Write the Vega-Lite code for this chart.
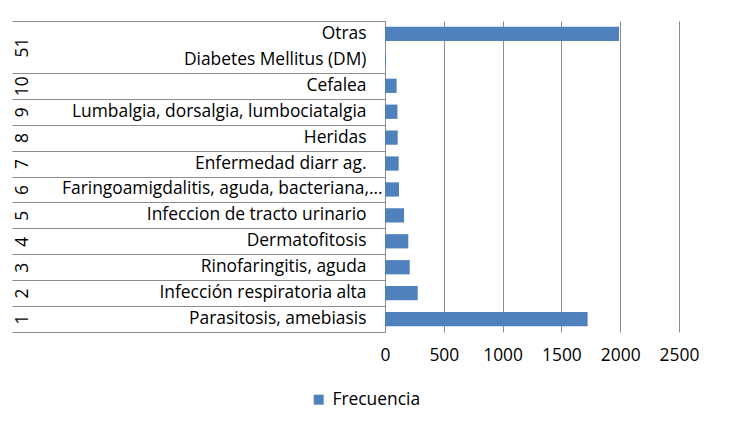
{
  "$schema": "https://vega.github.io/schema/vega-lite/v6.json",
  "width": 294,
  "height": 311,
  "autosize": "none",
  "padding": {"left": 385, "top": 21, "right": 53, "bottom": 108},
  "background": "white",
  "config": {
    "view": {"stroke": null},
    "font": "Open Sans",
    "axis": {"labelFont": "Open Sans", "labelFontSize": 17.4, "labelColor": "#000000"},
    "legend": {"labelFont": "Open Sans", "labelFontSize": 17.4, "labelColor": "#000000"}
  },
  "data": {
    "values": [
      {"grupo": "51", "enfermedad": "Otras", "frecuencia": 1990},
      {"grupo": "51", "enfermedad": "Diabetes Mellitus (DM)", "frecuencia": 8},
      {"grupo": "10", "enfermedad": "Cefalea", "frecuencia": 99},
      {"grupo": "9", "enfermedad": "Lumbalgia, dorsalgia, lumbociatalgia", "frecuencia": 106},
      {"grupo": "8", "enfermedad": "Heridas", "frecuencia": 108},
      {"grupo": "7", "enfermedad": "Enfermedad diarr ag.", "frecuencia": 116},
      {"grupo": "6", "enfermedad": "Faringoamigdalitis, aguda, bacteriana,…", "frecuencia": 119},
      {"grupo": "5", "enfermedad": "Infeccion de tracto urinario", "frecuencia": 162},
      {"grupo": "4", "enfermedad": "Dermatofitosis", "frecuencia": 198},
      {"grupo": "3", "enfermedad": "Rinofaringitis, aguda", "frecuencia": 210},
      {"grupo": "2", "enfermedad": "Infección respiratoria alta", "frecuencia": 278},
      {"grupo": "1", "enfermedad": "Parasitosis, amebiasis", "frecuencia": 1723}
    ]
  },
  "resolve": {"axis": {"y": "independent"}},
  "layer": [
    {
      "mark": {"type": "bar", "height": {"band": 0.55}},
      "encoding": {
        "y": {
          "field": "enfermedad",
          "type": "nominal",
          "sort": null,
          "scale": {"paddingInner": 0, "paddingOuter": 0},
          "axis": {
            "orient": "left",
            "title": null,
            "ticks": false,
            "domain": true,
            "domainColor": "#8c8c8c",
            "labelPadding": {"condition": {"test": "datum.value === 'Faringoamigdalitis, aguda, bacteriana,…'", "value": 3}, "value": 19},
            "labelLimit": 400
          }
        },
        "x": {
          "field": "frecuencia",
          "type": "quantitative",
          "scale": {"domain": [0, 2500], "nice": false},
          "axis": {
            "title": null,
            "values": [0, 500, 1000, 1500, 2000, 2500],
            "format": "d",
            "domain": false,
            "ticks": false,
            "grid": true,
            "gridColor": "#8c8c8c",
            "labelPadding": 14,
            "labelFlush": false
          }
        },
        "color": {
          "datum": "Frecuencia",
          "scale": {"range": ["#4F81BD"]},
          "legend": {
            "title": null,
            "orient": "none",
            "legendX": -75,
            "legendY": 370,
            "symbolType": "square",
            "symbolSize": 100,
            "symbolStrokeWidth": 0,
            "labelOffset": 5
          }
        }
      }
    },
    {
      "mark": {"type": "bar", "opacity": 0},
      "encoding": {
        "y": {
          "field": "enfermedad",
          "type": "nominal",
          "sort": null,
          "axis": {
            "orient": "left",
            "title": null,
            "domain": false,
            "ticks": true,
            "tickBand": "extent",
            "tickSize": 373,
            "tickColor": "#8c8c8c",
            "tickOpacity": {"condition": {"test": "datum.value === 'Otras'", "value": 0}, "value": 1},
            "labelAngle": 270,
            "labelAlign": "center",
            "labelBaseline": "middle",
            "labelPadding": -10,
            "labelOffset": {"condition": {"test": "datum.value === 'Otras'", "value": 13}, "value": 0},
            "labelExpr": "{'Otras': '51', 'Diabetes Mellitus (DM)': '', 'Cefalea': '10', 'Lumbalgia, dorsalgia, lumbociatalgia': '9', 'Heridas': '8', 'Enfermedad diarr ag.': '7', 'Faringoamigdalitis, aguda, bacteriana,…': '6', 'Infeccion de tracto urinario': '5', 'Dermatofitosis': '4', 'Rinofaringitis, aguda': '3', 'Infección respiratoria alta': '2', 'Parasitosis, amebiasis': '1'}[datum.value]"
          }
        },
        "x": {"field": "frecuencia", "type": "quantitative"}
      }
    }
  ]
}
